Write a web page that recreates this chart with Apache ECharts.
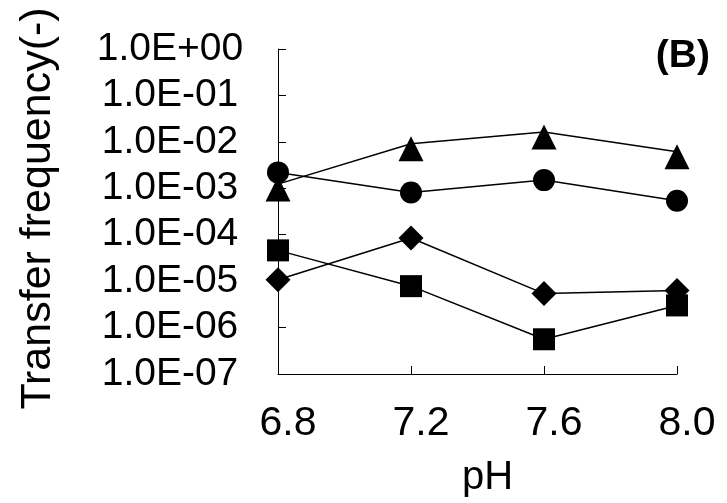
<!DOCTYPE html>
<html>
<head>
<meta charset="utf-8">
<script src="https://cdn.jsdelivr.net/npm/echarts@6/dist/echarts.min.js"></script>
<style>
  html, body { margin: 0; padding: 0; background: #fff; }
  #main { width: 727px; height: 503px; }
</style>
</head>
<body>
<div id="main"></div>
<script>
// pH values on the x axis
const phLabels = ['6.8', '7.2', '7.6', '8.0']

// transfer frequency, one array per marker type
const triangleData = [1.23e-3, 9.1e-3, 1.63e-2, 6.1e-3]
const circleData = [2.2e-3, 8.1e-4, 1.5e-3, 5.4e-4]
const diamondData = [1.07e-5, 8.5e-5, 5.4e-6, 6.3e-6]
const squareData = [4.6e-5, 7.8e-6, 5.6e-7, 3.0e-6]

const font = 'Liberation Sans, Arial, sans-serif'

// 1e-3 -> "1.0E-03"
const fmtExp = (v) => {
  const e = Math.round(Math.log10(v))
  return '1.0E' + (e < 0 ? '-' : '+') + String(Math.abs(e)).padStart(2, '0')
}

const mkSeries = (data, symbol, size, offset) => ({
  type: 'line',
  data: data,
  symbol: symbol,
  symbolSize: size,
  symbolOffset: offset || [0, 0],
  showSymbol: true,
  lineStyle: { color: '#000', width: 1.5 },
  itemStyle: { color: '#000' },
  emphasis: { disabled: true },
  animation: false
})

const myChart = echarts.init(document.getElementById('main'))
myChart.setOption({
  backgroundColor: '#fff',
  animation: false,
  grid: { left: 278, right: 50, top: 49, bottom: 127, containLabel: false },
  xAxis: {
    type: 'category',
    data: phLabels,
    boundaryGap: false,
    name: 'pH',
    nameLocation: 'middle',
    nameGap: 84,
    nameTextStyle: { color: '#000', fontSize: 40, fontFamily: font, padding: [0, 0, 0, 20] },
    axisLine: { lineStyle: { color: '#000', width: 1 } },
    axisTick: { inside: true, length: 8, alignWithLabel: true, lineStyle: { color: '#000' } },
    axisLabel: { color: '#000', fontSize: 41, fontFamily: font, margin: 29, padding: [0, 0, 0, 20] },
    splitLine: { show: false }
  },
  yAxis: {
    type: 'log',
    logBase: 10,
    min: 1e-7,
    max: 1,
    name: 'Transfer frequency(-)',
    nameLocation: 'middle',
    nameGap: 218,
    nameTextStyle: { color: '#000', fontSize: 43, fontFamily: font, padding: [0, 0, 0, 6] },
    axisLine: { show: true, lineStyle: { color: '#000', width: 1 } },
    axisTick: { show: true, inside: true, length: 8, lineStyle: { color: '#000' } },
    axisLabel: { color: '#000', fontSize: 39, fontFamily: font, align: 'center', margin: 108, formatter: fmtExp },
    splitLine: { show: false }
  },
  graphic: [
    {
      type: 'text',
      right: 17,
      top: 37,
      style: { text: '(B)', fill: '#000', font: 'bold 39px ' + font }
    }
  ],
  series: [
    mkSeries(triangleData, 'triangle', 25, [0, 5]),
    mkSeries(circleData, 'circle', 22),
    mkSeries(diamondData, 'diamond', 25),
    mkSeries(squareData, 'rect', 22)
  ]
})
</script>
</body>
</html>
